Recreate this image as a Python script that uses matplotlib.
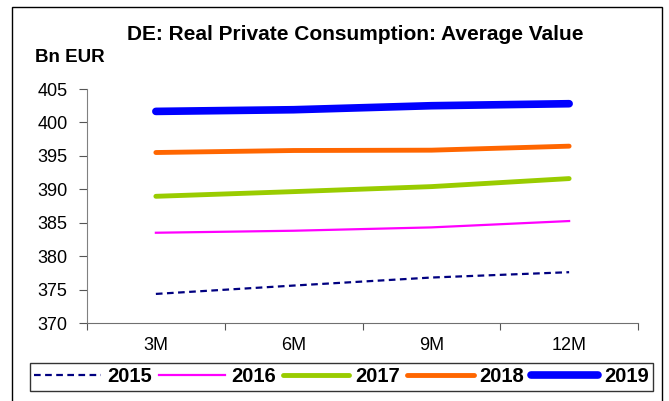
import numpy as np
import matplotlib
matplotlib.use("Agg")
import matplotlib.pyplot as plt
from matplotlib.patches import Rectangle

plt.rcParams['font.family'] = ['Liberation Sans', 'DejaVu Sans']

horizons = ['3M', '6M', '9M', '12M']
y2015 = [374.35, 375.6, 376.8, 377.6]
y2016 = [383.5, 383.8, 384.3, 385.25]
y2017 = [388.95, 389.65, 390.4, 391.6]
y2018 = [395.5, 395.8, 395.85, 396.45]
y2019 = [401.65, 401.9, 402.5, 402.8]
yticks = [370, 375, 380, 385, 390, 395, 400, 405]

fig = plt.figure(figsize=(6.69, 4.01), dpi=100)
# outer chart frame
fig.patches.append(Rectangle((12 / 669, -0.05), 650 / 669, 1.05 - 7 / 401,
                             transform=fig.transFigure, fill=False,
                             edgecolor='black', linewidth=1.0))

ax = fig.add_axes([87 / 669, 1 - 323 / 401, 551 / 669, 234 / 401])
x = np.arange(len(horizons))

ax.plot(x, y2015, color='#000080', lw=1.6, ls=(0, (3, 2)), label='2015')
ax.plot(x, y2016, color='#ff00ff', lw=1.6, label='2016')
ax.plot(x, y2017, color='#99cc00', lw=3.5, solid_capstyle='round', label='2017')
ax.plot(x, y2018, color='#ff6600', lw=3.5, solid_capstyle='round', label='2018')
ax.plot(x, y2019, color='#0000ff', lw=5.5, solid_capstyle='round', label='2019')

ax.set_xlim(-0.5, len(horizons) - 0.5)
ax.set_ylim(370, 405)
ax.set_yticks(yticks)
ax.set_xticks(np.arange(len(horizons) + 1) - 0.5)
ax.set_xticklabels([])
ax.set_xticks(x, minor=True)
ax.set_xticklabels(horizons, minor=True)
ax.tick_params(axis='x', which='minor', length=0, pad=10, labelsize=13)
ax.tick_params(axis='x', which='major', length=5, direction='out', color='#555555')
ax.tick_params(axis='y', length=6, direction='out', labelsize=13, pad=8,
               color='#555555')
for s in ['top', 'right']:
    ax.spines[s].set_visible(False)
ax.spines['left'].set_color('#808080')
ax.spines['bottom'].set_color('#707070')

fig.text(355 / 669, 1 - 35 / 401, 'DE: Real Private Consumption: Average Value',
         ha='center', va='center', fontsize=15, fontweight='bold')
fig.text(35 / 669, 1 - 58 / 401, 'Bn EUR', ha='left', va='center',
         fontsize=13.5, fontweight='bold')

leg = fig.legend(loc='center', bbox_to_anchor=(341.5 / 669, 1 - 377 / 401),
                 ncol=5, frameon=True, fancybox=False, handlelength=3.3,
                 columnspacing=0.35, handletextpad=0.3, borderpad=0.2,
                 prop={'weight': 'bold', 'size': 14.5})
leg.get_frame().set_edgecolor('black')
leg.get_frame().set_linewidth(1.0)

fig.savefig('out.png', dpi=100)
